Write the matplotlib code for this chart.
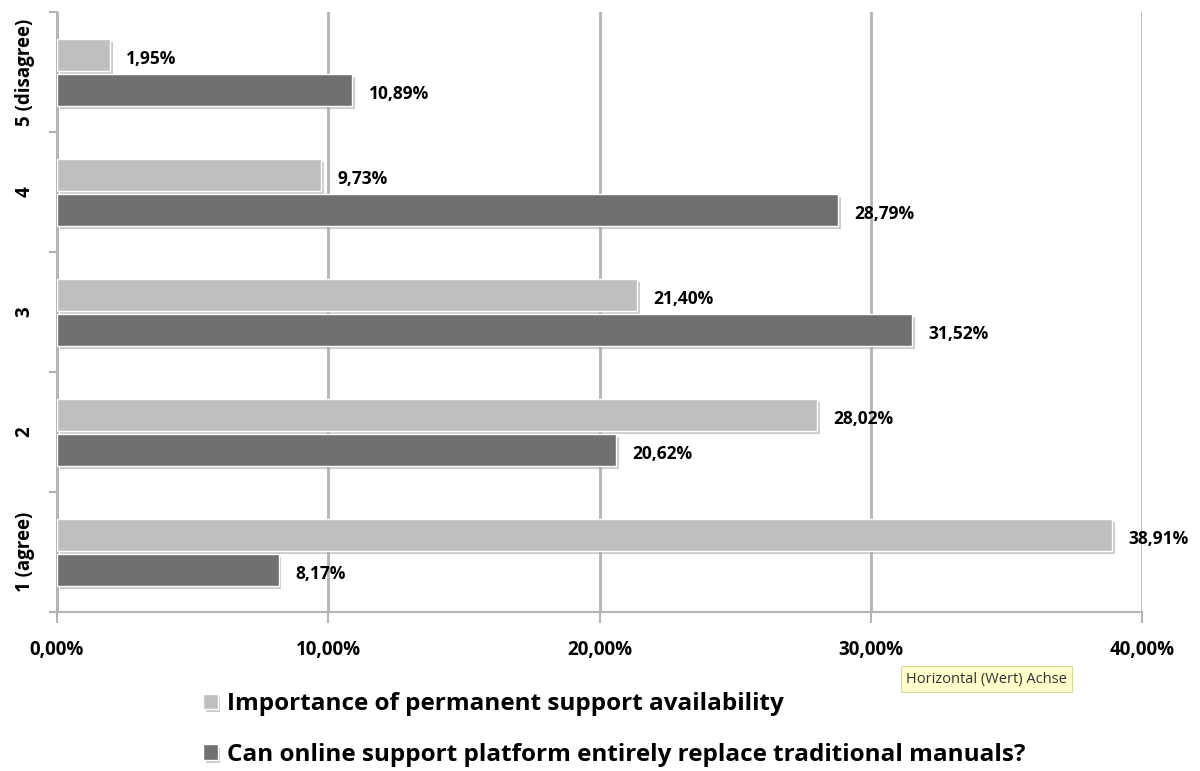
import matplotlib.pyplot as plt
import matplotlib.patheffects as pe
import numpy as np

categories = ["1 (agree)", "2", "3", "4", "5 (disagree)"]
importance = [38.91, 28.02, 21.40, 9.73, 1.95]
replace = [8.17, 20.62, 31.52, 28.79, 10.89]
series_names = ["Importance of permanent support availability",
                "Can online support platform entirely replace traditional manuals?"]
xticks = [0, 10, 20, 30, 40]

light = "#bfbfbf"
dark = "#707070"
grid_c = "#b4b4b4"

plt.rcParams["font.family"] = ["Open Sans", "DejaVu Sans"]
plt.rcParams["font.weight"] = "bold"

fig = plt.figure(figsize=(12, 7.71), dpi=100)
ax = fig.add_axes([57 / 1200, 1 - 612 / 771, (1142 - 57) / 1200, 600 / 771])

y = np.arange(len(categories))
h = 0.27
shadow = [pe.SimplePatchShadow(offset=(2, -2), shadow_rgbFace="#999999", alpha=0.5), pe.Normal()]

b1 = ax.barh(y + 0.14, importance, height=h, color=light, edgecolor="white", linewidth=1,
             zorder=3, path_effects=shadow)
b2 = ax.barh(y - 0.15, replace, height=h, color=dark, edgecolor="white", linewidth=1,
             zorder=3, path_effects=shadow)

for bars, vals in [(b1, importance), (b2, replace)]:
    for bar, v in zip(bars, vals):
        ax.text(v + 0.6, bar.get_y() + bar.get_height() / 2 - 0.03,
                f"{v:.2f}%".replace(".", ","), va="center", ha="left",
                fontsize=12.5, fontweight="bold", color="black")

ax.set_xlim(0, 40)
ax.set_ylim(-0.5, 4.5)
ax.set_xticks(xticks)
ax.set_xticklabels([f"{t:.2f}%".replace(".", ",") for t in xticks], fontsize=13.5, fontweight="bold")
ax.set_yticks(y)
ax.set_yticklabels(categories, rotation=90, va="center", fontsize=13.5, fontweight="bold")
ax.set_yticks(np.arange(-0.5, 5, 1), minor=True)
ax.tick_params(axis="y", which="major", length=0, pad=16)
ax.tick_params(axis="y", which="minor", length=6, color=grid_c, width=1.5)
ax.tick_params(axis="x", length=8, color=grid_c, width=1.5, pad=12)

ax.grid(axis="x", color=grid_c, linewidth=2, zorder=0)
for s in ["top", "right"]:
    ax.spines[s].set_visible(False)
for s in ["left", "bottom"]:
    ax.spines[s].set_color(grid_c)
    ax.spines[s].set_linewidth(1.5)

fig.legend([b1, b2], series_names, loc="upper left", bbox_to_anchor=(203 / 1200, 1 - 692 / 771),
           frameon=False, prop={"weight": "bold", "size": 17.5},
           handlelength=0.6, handleheight=0.6, handletextpad=0.4, labelspacing=1.1,
           borderaxespad=0, borderpad=0)

fig.text(906 / 1200, 1 - 679 / 771, "Horizontal (Wert) Achse", fontsize=10.5, fontweight="normal",
         color="#333333", va="center", ha="left",
         bbox=dict(boxstyle="square,pad=0.35", facecolor="#ffffcc", edgecolor="#d8d8a0", linewidth=0.8))

fig.savefig("out.png", dpi=100)
